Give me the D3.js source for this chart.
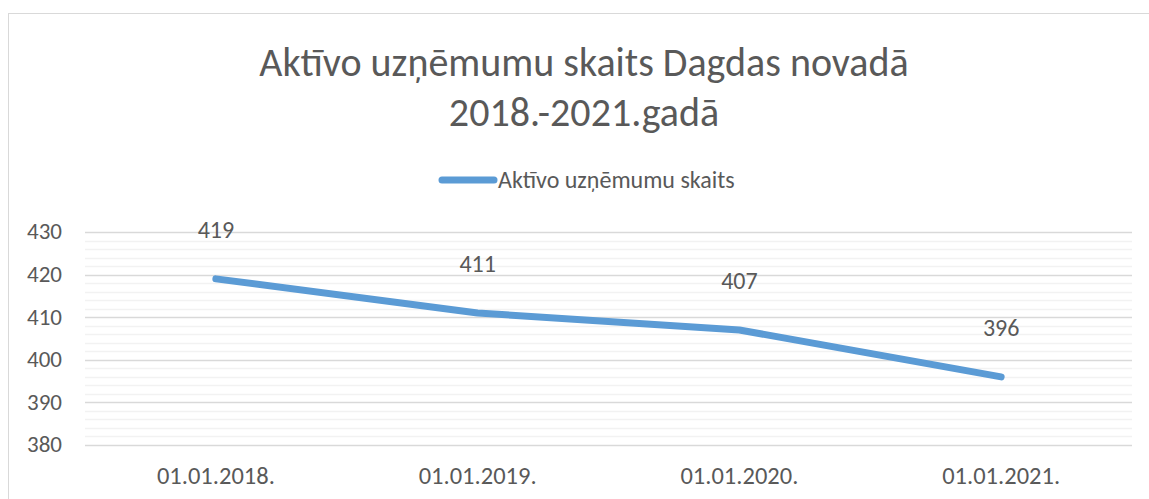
<!DOCTYPE html>
<html>
<head>
<meta charset="utf-8">
<script src="https://cdn.jsdelivr.net/npm/d3@7"></script>
<style>
  body { margin: 0; background: #fff; }
  text { font-family: Carlito, "Open Sans", sans-serif; fill: #595959; }
</style>
</head>
<body>
<svg id="chart" width="1149" height="499"></svg>
<script>
var titleLines = ['Aktīvo uzņēmumu skaits Dagdas novadā', '2018.-2021.gadā'];
var seriesName = 'Aktīvo uzņēmumu skaits';
var categories = ['01.01.2018.', '01.01.2019.', '01.01.2020.', '01.01.2021.'];
var values = [419, 411, 407, 396];
var yTicks = [380, 390, 400, 410, 420, 430];

var svg = d3.select('#chart');
var margin = {top: 232, right: 17, bottom: 54, left: 85},
    width = 1149 - margin.left - margin.right,
    height = 499 - margin.top - margin.bottom;

// chart frame
svg.append('rect')
    .attr('x', 8.5).attr('y', 13.5)
    .attr('width', 1160).attr('height', 500)
    .attr('fill', 'none')
    .attr('stroke', '#d9d9d9');

// title
svg.selectAll('.title')
    .data(titleLines)
    .enter().append('text')
    .attr('class', 'title')
    .attr('x', 584)
    .attr('y', function(d, i) { return 76 + i * 49.5; })
    .attr('text-anchor', 'middle')
    .style('font-size', '40px')
    .text(function(d) { return d; });

// legend
var legend = svg.append('g').attr('transform', 'translate(442,180)');
legend.append('line')
    .attr('x1', 0).attr('x2', 52)
    .attr('stroke', '#5b9bd5')
    .attr('stroke-width', 7)
    .attr('stroke-linecap', 'round');
legend.append('text')
    .attr('x', 56).attr('dy', '0.33em')
    .style('font-size', '24px')
    .text(seriesName);

var g = svg.append('g')
    .attr('transform', 'translate(' + margin.left + ',' + margin.top + ')');

var x = d3.scaleBand().domain(categories).range([0, width]);
var y = d3.scaleLinear().domain([380, 430]).range([height, 0]);

// minor gridlines every 2
g.selectAll('.minor')
    .data(d3.range(380, 431, 2).filter(function(v) { return v % 10 !== 0; }))
    .enter().append('line')
    .attr('class', 'minor')
    .attr('x1', 0).attr('x2', width)
    .attr('y1', function(d) { return Math.round(y(d)) + 0.5; })
    .attr('y2', function(d) { return Math.round(y(d)) + 0.5; })
    .attr('stroke', '#f2f2f2')
    .attr('stroke-width', 1.5);

// major gridlines
g.selectAll('.major')
    .data(yTicks)
    .enter().append('line')
    .attr('class', 'major')
    .attr('x1', 0).attr('x2', width)
    .attr('y1', function(d) { return Math.round(y(d)) + 0.5; })
    .attr('y2', function(d) { return Math.round(y(d)) + 0.5; })
    .attr('stroke', '#d9d9d9')
    .attr('stroke-width', 1.5);

// y axis labels
var yAxis = g.append('g')
    .call(d3.axisLeft(y).tickValues(yTicks).tickSize(0).tickPadding(23));
yAxis.select('.domain').remove();
yAxis.selectAll('text')
    .style('font-size', '23px')
    .attr('fill', '#595959')
    .attr('dy', '0.3em');

// x axis labels
var xAxis = g.append('g')
    .attr('transform', 'translate(0,' + height + ')')
    .call(d3.axisBottom(x).tickSize(0).tickPadding(39));
xAxis.select('.domain').remove();
xAxis.selectAll('text')
    .style('font-size', '24.5px')
    .attr('fill', '#595959')
    .attr('dy', '0');

// line
var line = d3.line()
    .x(function(d, i) { return x(categories[i]) + x.bandwidth() / 2; })
    .y(function(d) { return y(d); });

g.append('path')
    .datum(values)
    .attr('d', line)
    .attr('fill', 'none')
    .attr('stroke', '#5b9bd5')
    .attr('stroke-width', 7)
    .attr('stroke-linecap', 'round')
    .attr('stroke-linejoin', 'round');

// data labels
g.selectAll('.label')
    .data(values)
    .enter().append('text')
    .attr('class', 'label')
    .attr('x', function(d, i) { return x(categories[i]) + x.bandwidth() / 2; })
    .attr('y', function(d) { return y(d) - 41; })
    .attr('text-anchor', 'middle')
    .style('font-size', '24px')
    .text(function(d) { return d; });
</script>
</body>
</html>
